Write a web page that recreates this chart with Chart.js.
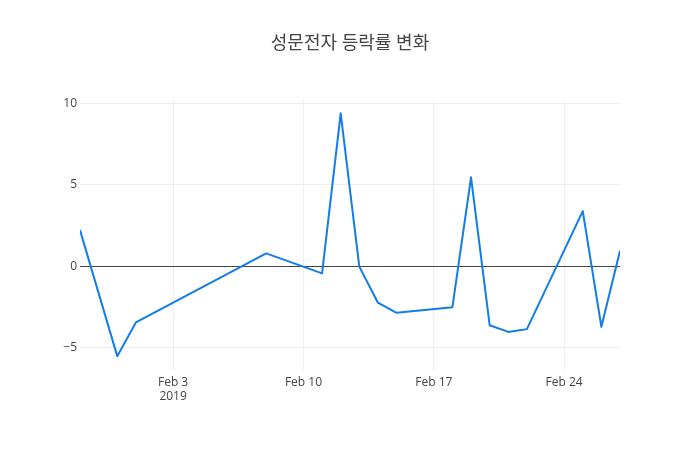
<!DOCTYPE html>
<html lang="ko">
<head>
    <meta charset="UTF-8">
    <title>성문전자 등락률 변화</title>
    <script src="https://cdn.jsdelivr.net/npm/chart.js"></script>
    <style>
        html, body { margin: 0; padding: 0; background: #fff; }
        #wrap { width: 700px; height: 450px; }
    </style>
</head>
<body>
<div id="wrap"><canvas id="myChart"></canvas></div>
<script>
const dates = ['2019-01-29', '2019-01-31', '2019-02-01', '2019-02-08', '2019-02-11', '2019-02-12',
  '2019-02-13', '2019-02-14', '2019-02-15', '2019-02-18', '2019-02-19', '2019-02-20',
  '2019-02-21', '2019-02-22', '2019-02-25', '2019-02-26', '2019-02-27'];
const changes = [2.21, -5.53, -3.46, 0.78, -0.45, 9.38, -0.03, -2.25, -2.87, -2.52, 5.45,
  -3.63, -4.04, -3.87, 3.38, -3.73, 0.94];
const xTickDates = ['2019-02-03', '2019-02-10', '2019-02-17', '2019-02-24'];
const yTicks = [-5, 0, 5, 10];
const months = ['Jan', 'Feb', 'Mar', 'Apr', 'May', 'Jun', 'Jul', 'Aug', 'Sep', 'Oct', 'Nov', 'Dec'];
const titleText = '성문전자 등락률 변화';

const DAY = 86400000;
const toDay = s => Date.parse(s + 'T00:00:00Z') / DAY;
const points = dates.map((d, i) => ({ x: toDay(d), y: changes[i] }));
const xTicks = xTickDates.map(toDay);

const family = "'Open Sans', 'Noto Sans CJK KR', sans-serif";
const font = { family: family, size: 12 };

// title centred on the whole canvas, not on the plot area
const pageTitle = {
  id: 'pageTitle',
  afterDraw(chart) {
    const c = chart.ctx;
    c.save();
    c.font = '18px ' + family;
    c.fillStyle = '#444';
    c.textAlign = 'center';
    c.textBaseline = 'middle';
    c.fillText(titleText, chart.width / 2, 44);
    c.restore();
  }
};

new Chart(document.getElementById('myChart'), {
  type: 'line',
  data: {
    datasets: [{
      data: points,
      borderColor: 'rgb(16, 125, 234)',
      borderWidth: 2,
      borderJoinStyle: 'round',
      pointRadius: 0,
      tension: 0,
      fill: false
    }]
  },
  options: {
    responsive: true,
    maintainAspectRatio: false,
    animation: false,
    layout: { padding: { left: 0, right: 80, top: 100, bottom: 0 } },
    plugins: {
      legend: { display: false },
      tooltip: { enabled: false },
      title: { display: false }
    },
    scales: {
      x: {
        type: 'linear',
        min: toDay(dates[0]),
        max: toDay(dates[dates.length - 1]),
        afterBuildTicks: axis => { axis.ticks = xTicks.map(v => ({ value: v })); },
        afterFit: axis => { axis.height = 80; },
        border: { display: false },
        grid: { color: '#eee', drawTicks: false },
        ticks: {
          color: '#444',
          font: font,
          padding: 5,
          maxRotation: 0,
          callback: (v, i) => {
            const d = new Date(v * DAY);
            const lbl = months[d.getUTCMonth()] + ' ' + d.getUTCDate();
            return i === 0 ? [lbl, String(d.getUTCFullYear())] : lbl;
          }
        }
      },
      y: {
        min: -6.38,
        max: 10.2,
        afterBuildTicks: axis => { axis.ticks = yTicks.map(v => ({ value: v })); },
        afterFit: axis => { axis.width = 80; },
        border: { display: false },
        grid: {
          drawTicks: false,
          color: ctx => ctx.tick && ctx.tick.value === 0 ? '#444' : '#eee'
        },
        ticks: {
          color: '#444',
          font: font,
          padding: 3,
          callback: v => v < 0 ? '\u2212' + Math.abs(v) : String(v)
        }
      }
    }
  },
  plugins: [pageTitle]
});
</script>
</body>
</html>
